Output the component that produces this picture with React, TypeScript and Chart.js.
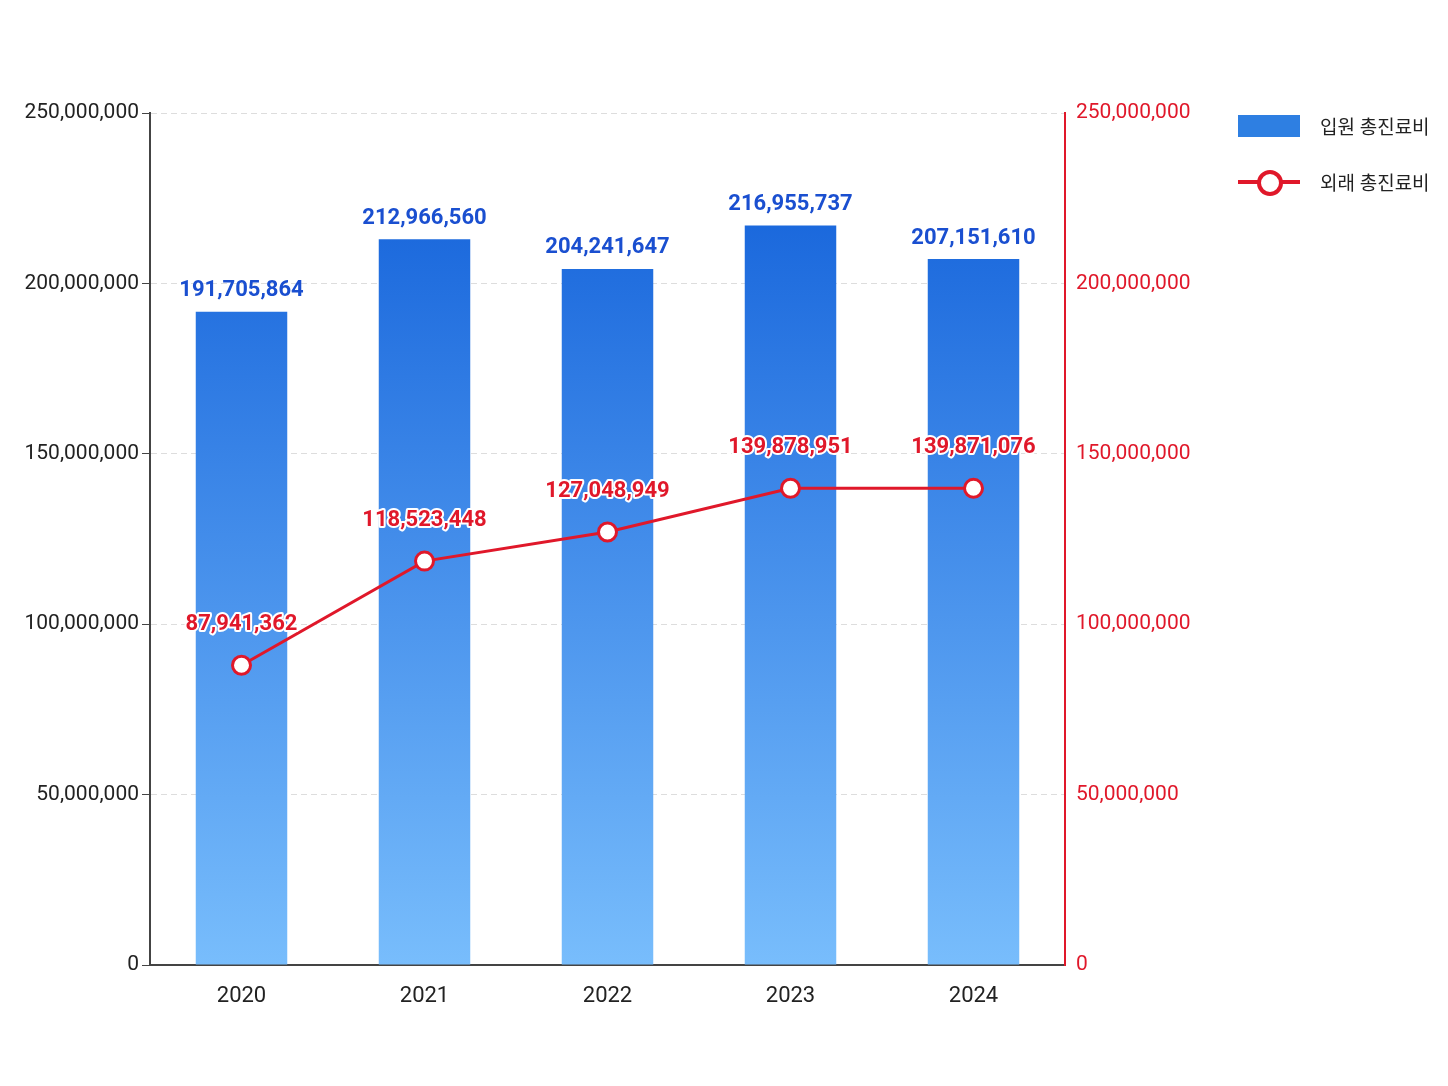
import React, { useEffect, useRef } from "react";
import { Chart, registerables } from "chart.js";
Chart.register(...registerables);

const years = ["2020", "2021", "2022", "2023", "2024"];
const inpatient = [191705864, 212966560, 204241647, 216955737, 207151610];
const outpatient = [87941362, 118523448, 127048949, 139878951, 139871076];
const seriesNames = ["입원 총진료비", "외래 총진료비"];

const FONT = "'Liberation Sans Narrow', 'Roboto', 'Noto Sans CJK KR', sans-serif";
const fmt = (v: number) => v.toLocaleString("en-US");

const labelPlugin = {
  id: "valueLabels",
  afterDatasetsDraw(chart: any) {
    const ctx = chart.ctx;
    ctx.save();
    ctx.textAlign = "center";
    ctx.textBaseline = "bottom";
    ctx.font = `bold 22px ${FONT}`;
    const bars = chart.getDatasetMeta(0).data;
    bars.forEach((b: any, i: number) => {
      ctx.fillStyle = "#1a4fd0";
      ctx.fillText(fmt(inpatient[i]), b.x, b.y - 10);
    });
    const pts = chart.getDatasetMeta(1).data;
    pts.forEach((p: any, i: number) => {
      ctx.lineWidth = 4;
      ctx.strokeStyle = "#ffffff";
      ctx.lineJoin = "round";
      ctx.strokeText(fmt(outpatient[i]), p.x, p.y - 30);
      ctx.fillStyle = "#e0182a";
      ctx.fillText(fmt(outpatient[i]), p.x, p.y - 30);
    });
    ctx.restore();
  },
};

export default function App() {
  const ref = useRef<HTMLCanvasElement>(null);
  useEffect(() => {
    const chart = new Chart(ref.current!, {
      type: "bar",
      data: {
        labels: years,
        datasets: [
          {
            type: "bar",
            label: seriesNames[0],
            data: inpatient,
            yAxisID: "y",
            order: 2,
            barPercentage: 0.5,
            categoryPercentage: 1,
            backgroundColor: (c: any) => {
              const ca = c.chart.chartArea;
              if (!ca) return "#3a8ae8";
              const g = c.chart.ctx.createLinearGradient(0, ca.top, 0, ca.bottom);
              g.addColorStop(0, "#0d5cd8");
              g.addColorStop(1, "#78bdfc");
              return g;
            },
          },
          {
            type: "line",
            label: seriesNames[1],
            data: outpatient,
            yAxisID: "y1",
            order: 1,
            borderColor: "#e0182a",
            borderWidth: 3,
            pointRadius: 9,
            pointBorderWidth: 3,
            pointBackgroundColor: "#ffffff",
            pointBorderColor: "#e0182a",
          },
        ],
      },
      options: {
        animation: false,
        responsive: true,
        maintainAspectRatio: false,
        layout: { padding: { left: 0, right: 225, top: 105, bottom: 53 } },
        plugins: { legend: { display: false }, tooltip: { enabled: false } },
        scales: {
          x: {
            grid: { display: false },
            border: { color: "#444", width: 2 },
            ticks: { color: "#222", font: { size: 22, family: FONT }, padding: 10 },
            afterFit: (s: any) => { s.height = 60; },
          },
          y: {
            position: "left",
            min: 0,
            max: 250000000,
            ticks: { stepSize: 50000000, color: "#222", font: { size: 21, family: FONT }, callback: (v: any) => fmt(v) },
            grid: { color: "#dddddd", tickColor: "#444", tickLength: 8, drawTicks: true },
            border: { color: "#444", width: 2, dash: [6, 4] },
            afterFit: (s: any) => { s.width = 142; },
          },
          y1: {
            position: "right",
            min: 0,
            max: 250000000,
            ticks: { stepSize: 50000000, color: "#e0182a", font: { size: 21, family: FONT }, callback: (v: any) => fmt(v) },
            grid: { display: false, tickColor: "#e0182a" },
            border: { color: "#e0182a", width: 2 },
            afterFit: (s: any) => { s.width = 150; },
          },
        },
      },
      plugins: [labelPlugin],
    } as any);
    return () => chart.destroy();
  }, []);
  const row = { position: "absolute" as const, left: 1230, display: "flex", alignItems: "center", fontSize: 19, color: "#222", whiteSpace: "nowrap" as const };
  return (
    <div style={{ position: "relative", width: 1432, height: 1070, fontFamily: FONT }}>
      <canvas ref={ref} />
      <div style={{ ...row, top: 104 }}>
        <span style={{ display: "inline-block", width: 62, height: 22, background: "#2e7fe2", marginRight: 20 }} />
        {seriesNames[0]}
      </div>
      <div style={{ ...row, top: 160 }}>
        <span style={{ position: "relative", display: "inline-block", width: 62, height: 26, marginRight: 20 }}>
          <span style={{ position: "absolute", left: 0, right: 0, top: 11, height: 4, background: "#e0182a" }} />
          <span style={{ position: "absolute", left: 19, top: 1, width: 18, height: 18, borderRadius: "50%", background: "#fff", border: "4px solid #e0182a" }} />
        </span>
        {seriesNames[1]}
      </div>
    </div>
  );
}
